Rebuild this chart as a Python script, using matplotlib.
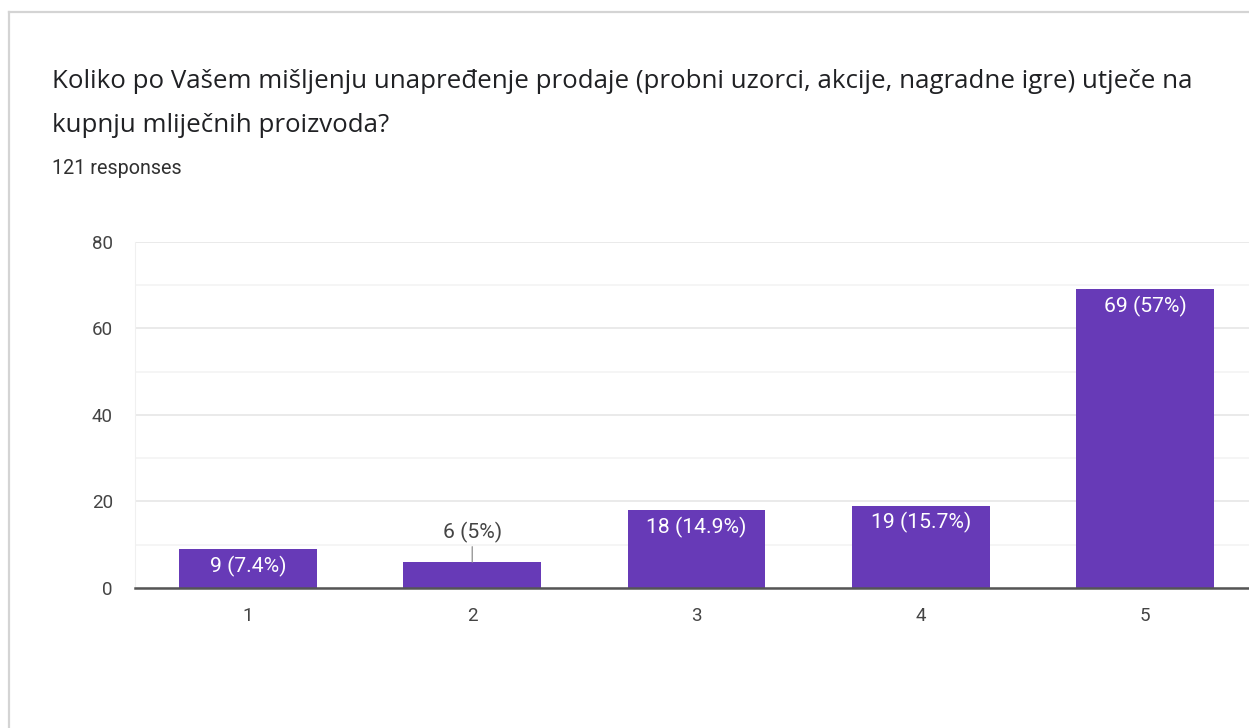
import matplotlib
matplotlib.use("Agg")
import matplotlib.pyplot as plt
from matplotlib.lines import Line2D
from matplotlib.ticker import MultipleLocator

plt.rcParams['font.family'] = ['Roboto', 'DejaVu Sans']

# Survey results
categories = ['1', '2', '3', '4', '5']
counts = [9, 6, 18, 19, 69]
percent_labels = ['7.4%', '5%', '14.9%', '15.7%', '57%']
total_responses = 121

title_lines = ["Koliko po Vašem mišljenju unapređenje prodaje (probni uzorci, akcije, nagradne igre) utječe na",
               "kupnju mliječnih proizvoda?"]
subtitle_text = f"{total_responses} responses"

BAR_COLOR = '#673ab7'
W, H = 1249, 728
fig = plt.figure(figsize=(W / 100, H / 100), dpi=100)
fig.patch.set_facecolor('white')

# card outline (top and left edges)
fig.add_artist(Line2D([9 / W, 9 / W], [0, 1 - 12 / H], color='#d4d4d4', lw=1.6,
                      transform=fig.transFigure))
fig.add_artist(Line2D([9 / W, 1], [1 - 12 / H, 1 - 12 / H], color='#d4d4d4', lw=1.6,
                      transform=fig.transFigure))

for line, base in zip(title_lines, [88, 132]):
    fig.text(52 / W, 1 - base / H, line, fontsize=18.6, color='#202124',
             family=['Open Sans', 'DejaVu Sans'], ha='left', va='baseline')
fig.text(52 / W, 1 - 174 / H, subtitle_text, fontsize=14.2, color='#303030',
         ha='left', va='baseline')

ax = fig.add_axes([135 / W, 1 - 588 / H, 1 - 135 / W, (588 - 241.6) / H])
x = list(range(1, len(categories) + 1))
ax.bar(x, counts, width=0.615, color=BAR_COLOR, zorder=3)

ax.set_xlim(1 - (248 - 135) / 224.25, 5 + (1249 - 1145) / 224.25)
ax.set_ylim(0, 80)
ax.yaxis.set_major_locator(MultipleLocator(20))
ax.yaxis.set_minor_locator(MultipleLocator(10))
ax.grid(axis='y', which='major', color='#e8e8e8', lw=1.3, zorder=0)
ax.grid(axis='y', which='minor', color='#f3f3f3', lw=1.2, zorder=0)
ax.set_xticks(x)
ax.set_xticklabels(categories)
ax.tick_params(axis='both', which='minor', length=0)
ax.tick_params(axis='both', which='major', length=0, labelsize=13.5, labelcolor='#444444')
ax.tick_params(axis='y', which='major', pad=16)
ax.tick_params(axis='x', which='major', pad=14)

for side in ('top', 'right'):
    ax.spines[side].set_visible(False)
ax.spines['left'].set_color('#f0f0f0')
ax.spines['bottom'].set_color('#555555')
ax.spines['bottom'].set_linewidth(1.8)
ax.spines['bottom'].set_zorder(4)

for xi, c, p in zip(x, counts, percent_labels):
    label = f"{c} ({p})"
    if c < 8:
        ax.annotate(label, xy=(xi, c), xytext=(0, 30), textcoords='offset pixels',
                    ha='center', va='center', fontsize=15.2, color='#444444',
                    arrowprops=dict(arrowstyle='-', color='#999999', lw=1,
                                    shrinkA=1, shrinkB=0))
    else:
        ax.annotate(label, xy=(xi, c), xytext=(0, -17), textcoords='offset pixels',
                    ha='center', va='center', fontsize=15.2, color='white', zorder=5)

fig.savefig('out.png', dpi=100, facecolor='white')
